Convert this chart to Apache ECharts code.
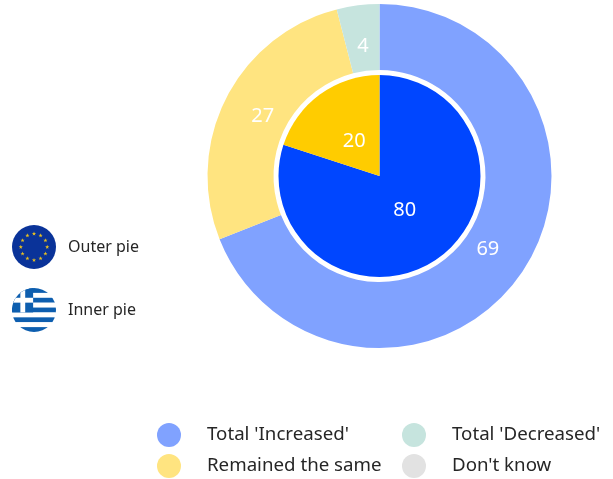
<!DOCTYPE html>
<html><head><meta charset="utf-8">
<style>html,body{margin:0;padding:0;background:#fff}#c{width:613px;height:479px}</style>
<script src="https://cdn.jsdelivr.net/npm/echarts@6/dist/echarts.min.js"></script>
</head><body><div id="c"></div>
<script>
const categories = ["Total 'Increased'", "Remained the same", "Total 'Decreased'", "Don't know"];
const outerValues = [69, 27, 4, 0];
const innerValues = [80, 20, 0, 0];
const outerColors = ['#80a2ff', '#ffe480', '#c6e4de', '#e2e2e2'];
const innerColors = ['#0046ff', '#ffcc00', '#8ec9bd', '#c4c4c4'];
const pieLabels = ['Outer pie', 'Inner pie'];
const FONT = '"Noto Sans", sans-serif';
const CX = 379.5, CY = 176;

const starPts = [];
for (let i = 0; i < 12; i++) {
  const a = i * Math.PI / 6;
  const x = 50 + 30 * Math.sin(a), y = 50 - 30 * Math.cos(a);
  let p = '';
  for (let k = 0; k < 10; k++) {
    const r = k % 2 ? 2 : 5, b = k * Math.PI / 5;
    p += (x + r * Math.sin(b)).toFixed(2) + ',' + (y - r * Math.cos(b)).toFixed(2) + ' ';
  }
  starPts.push('<polygon fill="#e8c020" points="' + p + '"/>');
}
const euSvg = '<svg xmlns="http://www.w3.org/2000/svg" width="100" height="100" viewBox="0 0 100 100"><circle cx="50" cy="50" r="50" fill="#0a3399"/>' + starPts.join('') + '</svg>';
let stripes = '';
for (let i = 0; i < 9; i++) {
  stripes += '<rect x="0" y="' + (i * 100 / 9) + '" width="100" height="' + (100 / 9 + 0.2) + '" fill="' + (i % 2 ? '#fff' : '#0d5eaf') + '"/>';
}
const grSvg = '<svg xmlns="http://www.w3.org/2000/svg" width="100" height="100" viewBox="0 0 100 100"><defs><clipPath id="k"><circle cx="50" cy="50" r="50"/></clipPath></defs><g clip-path="url(#k)">' + stripes +
  '<rect x="0" y="0" width="48" height="55.5" fill="#0d5eaf"/><rect x="19" y="0" width="11" height="55.5" fill="#fff"/><rect x="0" y="22.2" width="48" height="11.1" fill="#fff"/></g></svg>';
const uri = s => 'data:image/svg+xml;charset=utf-8,' + encodeURIComponent(s);

const mk = (vals, cols) => categories.map((n, i) => ({ name: n, value: vals[i], itemStyle: { color: cols[i] } }));
const mkLabels = vals => categories.map((n, i) => ({ name: n, value: vals[i], label: { show: vals[i] > 0 } }));
const base = {
  type: 'pie', center: [CX, CY], startAngle: 90, clockwise: true, silent: true,
  stillShowZeroSum: false, animation: false, labelLine: { show: false }
};
const marks = Object.assign({}, base, { label: { show: false } });
const labelLayer = Object.assign({}, base, {
  itemStyle: { color: 'rgba(0,0,0,0)' },
  label: { position: 'inside', formatter: '{c}', color: '#fff', fontSize: 20, fontFamily: FONT }
});
const legendBase = {
  orient: 'vertical', icon: 'circle', itemWidth: 24, itemHeight: 24, itemGap: 7, selectedMode: false, top: 423, padding: 0,
  textStyle: { fontFamily: FONT, fontSize: 18.7, color: '#262626', padding: [3, 0, 0, 21] }
};
const chart = echarts.init(document.getElementById('c'), null, { renderer: 'canvas' });
chart.setOption({
  animation: false,
  legend: [
    Object.assign({}, legendBase, { left: 157, data: [categories[0], categories[1]] }),
    Object.assign({}, legendBase, { left: 402, data: [categories[2], categories[3]] })
  ],
  series: [
    Object.assign({}, marks, { radius: [106, 172], data: mk(outerValues, outerColors) }),
    Object.assign({}, marks, { radius: [0, 101], data: mk(innerValues, innerColors) }),
    Object.assign({}, labelLayer, { radius: [84, 172], data: mkLabels(outerValues) }),
    Object.assign({}, labelLayer, { radius: [0, 80], data: mkLabels(innerValues) })
  ],
  graphic: [
    { type: 'image', left: 12, top: 225, style: { image: uri(euSvg), width: 44, height: 44 } },
    { type: 'image', left: 12, top: 288, style: { image: uri(grSvg), width: 44, height: 44 } },
    { type: 'text', left: 68, top: 239, style: { text: pieLabels[0], fontFamily: FONT, fontSize: 16, fill: '#262626' } },
    { type: 'text', left: 68, top: 302, style: { text: pieLabels[1], fontFamily: FONT, fontSize: 16, fill: '#262626' } }
  ]
});
</script></body></html>
